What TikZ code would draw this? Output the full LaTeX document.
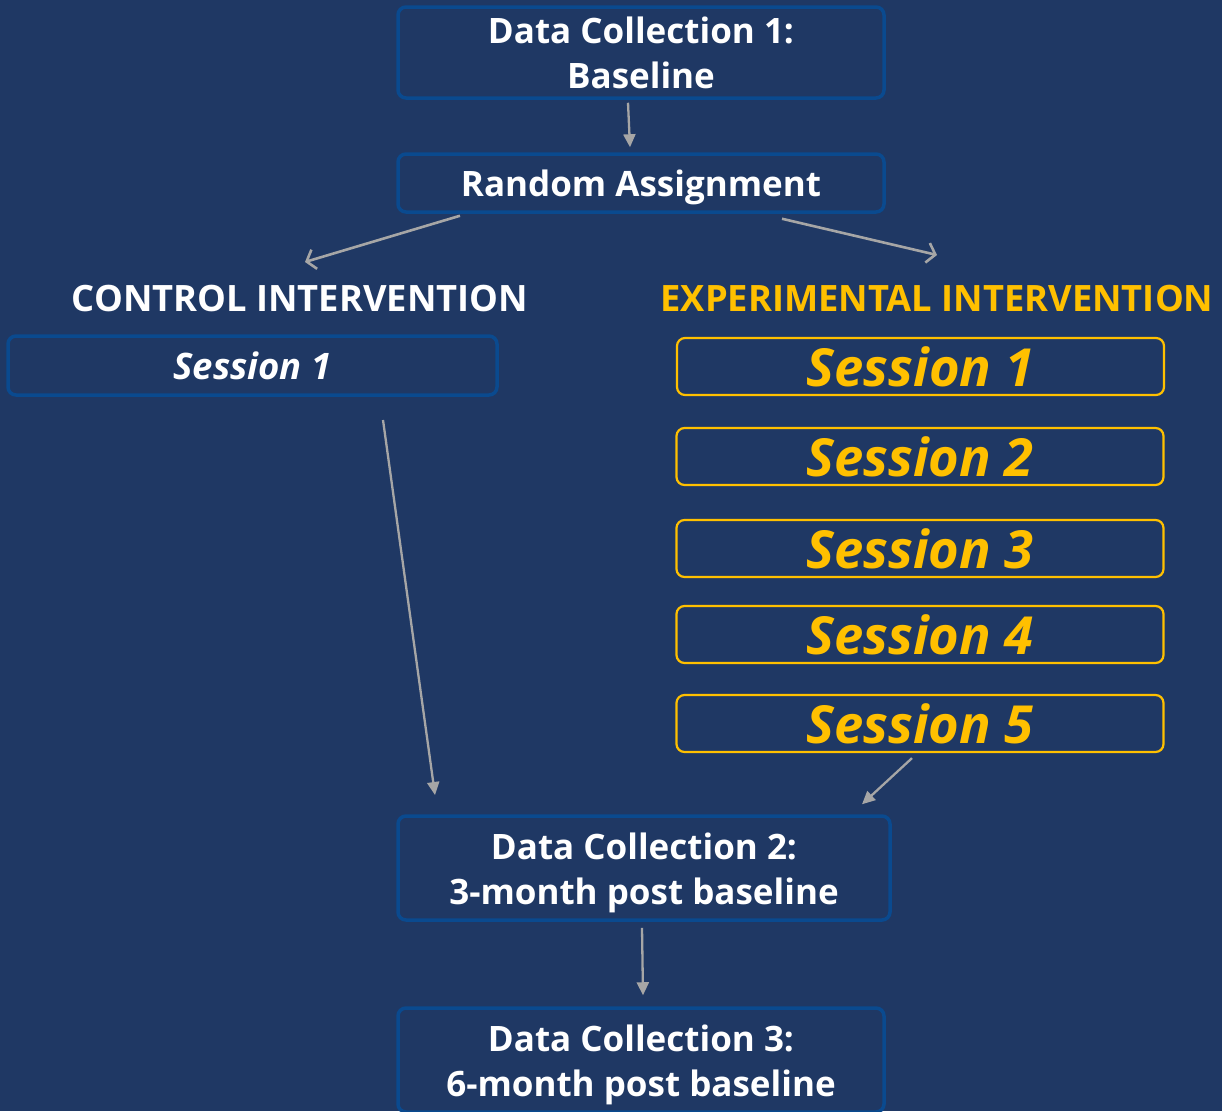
\documentclass[tikz,border=0pt]{standalone}
\usepackage{fontspec}
\setmainfont{Open Sans}
\usetikzlibrary{arrows.meta,calc}
\definecolor{bg}{HTML}{1F3864}
\definecolor{edgeblue}{HTML}{0A4A8F}
\definecolor{gold}{HTML}{FFC000}
\definecolor{arr}{HTML}{A6A6A6}
\newcommand{\liftrule}[1]{\rule{0pt}{#1}}
\tikzset{
  blubox/.style={draw=edgeblue, line width=3.5pt, rounded corners=8pt, fill=bg, text=white,
    font=\bfseries\fontsize{35}{45}\selectfont, align=center, inner sep=0pt},
  goldbox/.style={draw=gold, line width=2.2pt, rounded corners=8pt, text=gold,
    font=\bfseries\itshape\fontsize{52.5}{54}\selectfont, inner sep=0pt,
    minimum width=487pt, minimum height=57pt},
  headlbl/.style={font=\bfseries\fontsize{36.3}{40}\selectfont, inner sep=0pt},
  farrow/.style={draw=arr, line width=2.3pt, -{Triangle[length=13pt,width=12pt]}},
  oarrow/.style={draw=arr, line width=2.6pt, -{Straight Barb[length=8pt,width=20pt]}}
}
\begin{document}
\begin{tikzpicture}[x=1pt,y=-1pt]
\useasboundingbox (0,0) rectangle (1222,1111);
\clip (0,0) rectangle (1222,1111);
\fill[bg] (0,0) rectangle (1222,1111);

\node[blubox, minimum width=486pt, minimum height=91pt] (dc1) at (641,52.5) {\liftrule{28pt}Data Collection 1:\\Baseline};
\node[blubox, minimum width=486pt, minimum height=58pt] (ra) at (641,183) {\liftrule{35pt}Random Assignment};

\node[headlbl, text=white] (ctl) at (300,299) {CONTROL INTERVENTION};
\node[headlbl, text=gold] (exp) at (937,299) {EXPERIMENTAL INTERVENTION};

\node[blubox, minimum width=489pt, minimum height=59pt, font=\bfseries\itshape\fontsize{36.5}{40}\selectfont] (cs1) at (252.5,365.5) {Session 1};

\node[goldbox] (es1) at (920.5,366.5) {Session 1};
\node[goldbox] (es2) at (920,456.5) {Session 2};
\node[goldbox] (es3) at (920,548.5) {Session 3};
\node[goldbox] (es4) at (920,634.5) {Session 4};
\node[goldbox] (es5) at (920,723.5) {Session 5};

\node[blubox, minimum width=492pt, minimum height=104pt] (dc2) at (644,868) {\liftrule{36.5pt}Data Collection 2:\\3-month post baseline};
\node[blubox, minimum width=486pt, minimum height=104pt] (dc3) at (641,1060) {\liftrule{37pt}Data Collection 3:\\6-month post baseline};

\coordinate (raL) at (305,262);
\coordinate (raR) at (937,255);
\coordinate (ctlEnd) at (435,795);
\coordinate (ctlStart) at (383,420);

\draw[farrow] ($(dc1.south)+(-13,3)$) -- ($(ra.north)+(-11,-5)$);
\draw[oarrow] ($(ra.south)+(-181,2)$) -- (raL);
\draw[oarrow] ($(ra.south)+(141,5)$) -- (raR);
\draw[farrow] (ctlStart) -- (ctlEnd);
\draw[farrow] ($(es5.south)+(-8,5)$) -- ($(dc2.north)+(218,-10)$);
\draw[farrow] ($(dc2.south)+(-2,6)$) -- ($(dc3.north)+(2,-11)$);
\end{tikzpicture}
\end{document}
